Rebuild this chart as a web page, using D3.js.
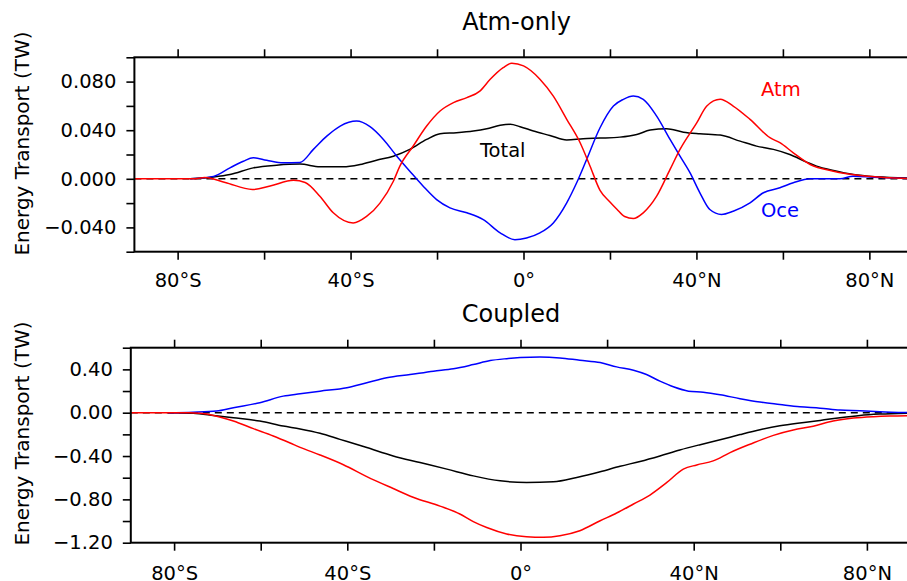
<!DOCTYPE html>
<html>
<head>
<meta charset="utf-8">
<script src="https://cdn.jsdelivr.net/npm/d3@7/dist/d3.min.js"></script>
<style>
  html, body { margin: 0; padding: 0; background: #fff; }
  svg { display: block; font-family: "DejaVu Sans", sans-serif; }
</style>
</head>
<body>
<svg id="chart" width="907" height="581"></svg>
<script>
// Northward energy transport (TW) by latitude: [latitude, value]

// Atm-only run
const atmOnlyAtm = [
  [-90, 0], [-76.4, 0], [-73.7, 0.001], [-69.0, -0.003], [-62.7, -0.0088], [-58.6, -0.006],
  [-53.2, -0.0012], [-50.5, -0.003], [-47.1, -0.0143], [-44.0, -0.028], [-39.4, -0.0363],
  [-36.3, -0.031], [-33.2, -0.020], [-30.1, -0.002], [-28.6, 0.0104], [-25.5, 0.027],
  [-22.4, 0.0434], [-19.3, 0.0558], [-16.2, 0.0627], [-13.1, 0.0668], [-10.1, 0.0722],
  [-7.7, 0.0819], [-4.7, 0.0915], [-2.7, 0.0951], [0.0, 0.0929], [3.8, 0.082], [6.9, 0.068],
  [10.0, 0.049], [13.1, 0.0297], [15.4, 0.0104], [17.7, -0.0095], [20.0, -0.019],
  [21.6, -0.025], [23.4, -0.031], [25.4, -0.0327], [27.7, -0.028], [30.8, -0.0143], [33.9, 0.0077],
  [36.2, 0.0242], [40.1, 0.0462], [42.4, 0.0599], [45.5, 0.0654], [48.5, 0.0599],
  [52.4, 0.0489], [57.0, 0.0338], [59.3, 0.0297], [62.4, 0.0214], [66.3, 0.0118],
  [71.7, 0.0063], [77.8, 0.0027], [84.8, 0.0008], [90, 0]
];
const atmOnlyOce = [
  [-77.1, 0], [-71.7, 0.002], [-67.9, 0.009], [-64.8, 0.0145], [-62.5, 0.0173], [-59.4, 0.0153],
  [-55.6, 0.0132], [-51.7, 0.0135], [-48.6, 0.0242], [-45.5, 0.0351], [-42.4, 0.0434],
  [-38.6, 0.0475], [-35.5, 0.0429], [-32.4, 0.0324], [-29.3, 0.0186], [-26.3, 0.0063],
  [-23.2, -0.0061], [-20.1, -0.0171], [-17.0, -0.0239], [-13.1, -0.028], [-9.3, -0.0336],
  [-5.4, -0.0445], [-2.0, -0.0501], [0.7, -0.0487], [3.8, -0.0445], [6.9, -0.0363],
  [10.0, -0.0198], [12.3, -0.0033], [14.6, 0.0159], [17.7, 0.042], [20.8, 0.0599],
  [23.1, 0.0654], [25.4, 0.0681], [27.7, 0.0654], [30.8, 0.0516], [33.9, 0.0324],
  [36.2, 0.0186], [38.5, 0.005], [40.8, -0.0115], [43.1, -0.0253], [45.8, -0.0294],
  [48.5, -0.0267], [52.4, -0.0198], [55.5, -0.0115], [59.3, -0.0074], [62.4, -0.0033],
  [66.3, 0], [73.2, 0], [76.2, 0.002], [80.8, 0.0013], [90, 0]
];
const atmOnlyTotal = [
  [-77.1, 0], [-71.7, 0.0015], [-67.9, 0.0035], [-62.5, 0.009], [-57.1, 0.0112], [-51.7, 0.0121],
  [-47.1, 0.0099], [-41.7, 0.0099], [-37.8, 0.0118], [-34.0, 0.0153], [-30.1, 0.0186],
  [-26.3, 0.0242], [-22.4, 0.0324], [-19.3, 0.0371], [-15.5, 0.0379], [-11.6, 0.0393],
  [-8.5, 0.0412], [-5.4, 0.044], [-3.1, 0.0448], [-0.8, 0.0429], [2.3, 0.0393], [6.1, 0.0357],
  [10.0, 0.0319], [13.8, 0.033], [17.7, 0.0335], [22.3, 0.0343], [26.2, 0.0365], [29.3, 0.0401],
  [33.1, 0.0412], [37.0, 0.0384], [40.8, 0.0371], [45.5, 0.036], [50.1, 0.031], [53.9, 0.0269],
  [57.8, 0.0242], [61.6, 0.02], [65.5, 0.0137], [67.8, 0.0104], [71.7, 0.0068], [76.3, 0.0035],
  [81.7, 0.0016], [90, 0.0005]
];

// Coupled run
const coupledAtm = [
  [-90, 0], [-76.3, 0], [-74.0, -0.006], [-70.9, -0.025], [-66.3, -0.077], [-61.7, -0.147],
  [-57.1, -0.215], [-53.2, -0.28], [-50.9, -0.32], [-46.3, -0.39], [-40.9, -0.48],
  [-35.5, -0.59], [-29.4, -0.70], [-24.8, -0.78], [-18.6, -0.862], [-14.0, -0.935],
  [-10.9, -1.005], [-7.8, -1.06], [-3.2, -1.119], [1.4, -1.144], [5.3, -1.149], [9.1, -1.135],
  [13.7, -1.089], [18.4, -0.997], [22.2, -0.926], [26.1, -0.843], [29.9, -0.76], [33.8, -0.644],
  [37.6, -0.521], [40.7, -0.482], [44.5, -0.445], [48.4, -0.368], [53.0, -0.291], [58.4, -0.209],
  [63.0, -0.16], [67.6, -0.125], [72.2, -0.077], [76.9, -0.05], [81.5, -0.037], [85.3, -0.031],
  [90, -0.028]
];
const coupledOce = [
  [-81.4, 0], [-75.6, 0.005], [-70.2, 0.015], [-66.3, 0.046], [-60.2, 0.092], [-54.8, 0.153],
  [-50.9, 0.175], [-46.3, 0.199], [-40.1, 0.23], [-35.5, 0.276], [-30.9, 0.322], [-25.5, 0.352],
  [-20.1, 0.383], [-15.5, 0.405], [-10.9, 0.444], [-7.0, 0.481], [-3.2, 0.499], [-0.1, 0.509],
  [4.5, 0.515], [9.1, 0.506], [13.7, 0.484], [18.4, 0.463], [22.2, 0.423], [26.1, 0.392],
  [29.1, 0.352], [32.2, 0.291], [35.3, 0.239], [38.8, 0.199], [42.2, 0.189], [46.1, 0.166],
  [50.7, 0.129], [55.3, 0.098], [59.9, 0.076], [64.5, 0.055], [69.2, 0.042], [73.8, 0.024],
  [78.4, 0.018], [83.0, 0.009], [90, 0]
];
const coupledTotal = [
  [-81.4, 0], [-75.6, -0.006], [-70.9, -0.025], [-66.3, -0.046], [-60.2, -0.077], [-54.8, -0.123],
  [-50.9, -0.15], [-46.3, -0.19], [-41.7, -0.246], [-35.5, -0.322], [-29.4, -0.399],
  [-23.2, -0.46], [-17.0, -0.521], [-10.9, -0.583], [-4.7, -0.629], [1.4, -0.644], [7.6, -0.638],
  [13.0, -0.598], [18.4, -0.546], [23.0, -0.495], [27.6, -0.45], [32.2, -0.399], [36.8, -0.344],
  [41.5, -0.295], [46.1, -0.25], [50.7, -0.202], [55.3, -0.157], [59.9, -0.12], [64.5, -0.094],
  [69.2, -0.072], [73.8, -0.046], [78.4, -0.025], [83.0, -0.013], [90, -0.004]
];

// Axis ticks and labels
const latTicks = [-80, -60, -40, -20, 0, 20, 40, 60, 80];
const latLabels = { "-80": "80°S", "-40": "40°S", "0": "0°", "40": "40°N", "80": "80°N" };
const atmOnlyYTicks = [-0.06, -0.04, -0.02, 0, 0.02, 0.04, 0.06, 0.08, 0.10];
const atmOnlyYLabels = [-0.04, 0, 0.04, 0.08];
const coupledYTicks = [-1.2, -1.0, -0.8, -0.6, -0.4, -0.2, 0, 0.2, 0.4, 0.6];
const coupledYLabels = [-1.2, -0.8, -0.4, 0, 0.4];

const svg = d3.select("#chart");
const TICK = 8;

function drawPanel(opt) {
  const x = d3.scaleLinear().domain([-90, 90]).range([opt.left, opt.right]);
  const y = d3.scaleLinear().domain(opt.yDomain).range([opt.bottom, opt.top]);
  const g = svg.append("g");
  const isLabel = (v, list) => list.some(l => Math.abs(l - v) < 1e-9);

  // left axis
  const yAxis = d3.axisLeft(y).tickValues(opt.yTicks).tickSize(TICK).tickPadding(10)
    .tickFormat(v => isLabel(v, opt.yLabels) ? opt.yFormat(v) : "");
  g.append("g").attr("transform", `translate(${opt.left},0)`).call(yAxis);

  // bottom axis with labels, top axis ticks only
  const xAxisB = d3.axisBottom(x).tickValues(latTicks).tickSize(TICK).tickPadding(opt.xPad)
    .tickFormat(v => latLabels[String(v)] || "");
  g.append("g").attr("transform", `translate(0,${opt.bottom})`).call(xAxisB);
  const xAxisT = d3.axisTop(x).tickValues(latTicks).tickSize(TICK).tickFormat("");
  g.append("g").attr("transform", `translate(0,${opt.top})`).call(xAxisT);

  g.selectAll(".domain").remove();
  g.selectAll(".tick line").attr("stroke", "#000").attr("stroke-width", 1.6);
  g.selectAll(".tick text").attr("fill", "#000").style("font-size", "19.5px")
    .style("font-family", "'DejaVu Sans', sans-serif");

  // zero reference line
  g.append("line")
    .attr("x1", x(-90)).attr("x2", x(90)).attr("y1", y(0)).attr("y2", y(0))
    .attr("stroke", "#000").attr("stroke-width", 1.5).attr("stroke-dasharray", "7,5");

  const line = d3.line().x(d => x(d[0])).y(d => y(d[1])).curve(d3.curveMonotoneX);
  opt.series.forEach(s => {
    g.append("path").datum(s.data)
      .attr("fill", "none").attr("stroke", s.color).attr("stroke-width", 1.5)
      .attr("stroke-linejoin", "round").attr("d", line);
  });

  // frame
  g.append("rect")
    .attr("x", opt.left).attr("y", opt.top)
    .attr("width", opt.right - opt.left).attr("height", opt.bottom - opt.top)
    .attr("fill", "none").attr("stroke", "#000").attr("stroke-width", 2);

  // titles
  g.append("text").attr("x", opt.titleX).attr("y", opt.titleY)
    .attr("text-anchor", "middle").style("font-size", "24px").text(opt.title);
  g.append("text")
    .attr("transform", `translate(29,${opt.yTitleY}) rotate(-90)`)
    .attr("text-anchor", "middle").style("font-size", "20px")
    .text("Energy Transport (TW)");

  (opt.notes || []).forEach(n => {
    g.append("text").attr("x", n.x).attr("y", n.y).attr("fill", n.color)
      .style("font-size", "19.5px").text(n.text);
  });
}

drawPanel({
  left: 134.4, right: 912.6, top: 57.3, bottom: 251.7,
  yDomain: [-0.06, 0.10], yTicks: atmOnlyYTicks, yLabels: atmOnlyYLabels,
  yFormat: d3.format(".3f"), xPad: 13,
  title: "Atm-only", titleX: 516.5, titleY: 30, yTitleY: 143.5,
  series: [
    { data: atmOnlyTotal, color: "#000000" },
    { data: atmOnlyOce, color: "#0000ff" },
    { data: atmOnlyAtm, color: "#ff0000" }
  ],
  notes: [
    { text: "Atm", x: 761, y: 96, color: "#ff0000" },
    { text: "Oce", x: 761, y: 216.5, color: "#0000ff" },
    { text: "Total", x: 480, y: 156.5, color: "#000000" }
  ]
});

drawPanel({
  left: 130.8, right: 910.2, top: 347.7, bottom: 542.7,
  yDomain: [-1.2, 0.6], yTicks: coupledYTicks, yLabels: coupledYLabels,
  yFormat: d3.format(".2f"), xPad: 15,
  title: "Coupled", titleX: 511, titleY: 321.5, yTitleY: 433.5,
  series: [
    { data: coupledTotal, color: "#000000" },
    { data: coupledOce, color: "#0000ff" },
    { data: coupledAtm, color: "#ff0000" }
  ]
});
</script>
</body>
</html>
